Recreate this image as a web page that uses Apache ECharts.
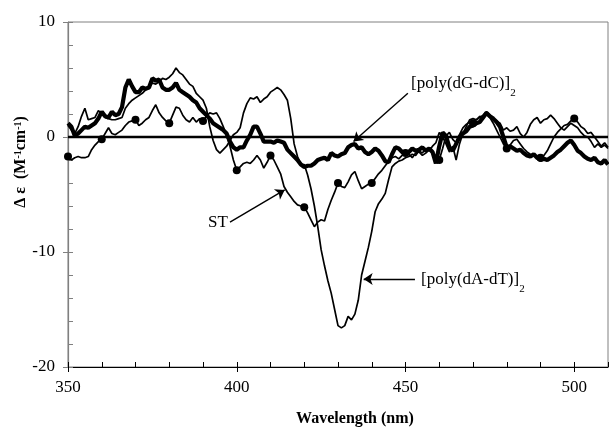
<!DOCTYPE html>
<html>
<head>
<meta charset="utf-8">
<script src="https://cdn.jsdelivr.net/npm/echarts@6/dist/echarts.min.js"></script>
<style>
html, body { margin: 0; padding: 0; background: #fff; }
#chart { width: 609px; height: 430px; }
</style>
</head>
<body>
<div id="chart"></div>
<script>
// CD spectra, 1 nm steps from 350 to 510 nm
const wlStart = 350
const wlEnd = 510

// [poly(dG-dC)]2 - thick trace
const polyGC = [
    1.2, 0.9, 0.1, 0.3, 0.6, 0.9, 0.8, 1.0, 1.2, 1.6,
    2.2, 1.8, 1.7, 2.2, 1.9, 2.0, 2.6, 4.3, 5.0, 4.4,
    3.9, 3.9, 4.3, 4.2, 4.3, 5.1, 4.9, 5.0, 4.3, 4.1,
    4.1, 4.3, 4.7, 4.1, 3.9, 3.7, 3.5, 3.2, 3.0, 2.5,
    2.2, 1.9, 1.6, 1.2, 1.0, 0.8, 0.6, 0.3, -0.4, -0.9,
    -1.1, -0.9, -0.9, -0.3, 0.2, 0.9, 0.9, 0.3, -0.4, -0.4,
    -0.4, -0.5, -0.3, -0.4, -0.5, -1.1, -1.4, -1.7, -2.0, -2.4,
    -2.6, -2.5, -2.5, -2.3, -2.0, -1.9, -1.8, -2.0, -1.4, -1.6,
    -1.7, -1.5, -1.4, -0.9, -0.7, -0.6, -1.0, -0.9, -1.3, -1.5,
    -1.3, -1.0, -1.2, -1.6, -2.1, -2.2, -1.5, -0.9, -1.0, -1.3,
    -1.5, -1.3, -1.0, -1.2, -1.1, -0.9, -1.2, -1.0, -1.3, -2.3,
    -0.8, 0.4, 0.1, -0.9, -1.2, -0.6, 0.0, 0.3, 0.5, 0.9,
    1.0, 1.2, 1.3, 1.7, 2.1, 1.8, 1.6, 1.3, 0.9, 0.0,
    -0.9, -0.8, -1.0, -1.2, -1.1, -1.4, -1.6, -1.7, -1.5, -1.8,
    -2.0, -1.9, -2.0, -1.8, -1.6, -1.3, -1.1, -0.8, -0.5, -0.3,
    -0.7, -1.2, -1.4, -1.7, -1.9, -2.0, -1.8, -2.2, -2.3, -2.0,
    -2.4
]

// [poly(dA-dT)]2 - thin trace with the deep band near 431 nm
const polyAT = [
    1.0, 0.6, 0.3, 0.9, 1.8, 2.5, 1.5, 1.6, 1.7, 2.3,
    2.0, 1.7, 1.6, 1.5, 1.5, 1.6, 1.7, 2.5, 2.9, 3.2,
    3.4, 3.6, 3.8, 4.1, 4.3, 4.7, 4.6, 4.8, 5.1, 5.0,
    5.2, 5.5, 6.0, 5.6, 5.4, 5.0, 4.6, 4.4, 3.8, 3.5,
    3.2, 2.5, 0.9, -0.3, -1.1, -1.4, -1.1, -0.8, -0.3, 0.2,
    0.4, 0.8, 2.1, 2.9, 3.4, 3.3, 3.5, 3.0, 3.3, 3.5,
    3.9, 4.1, 4.3, 4.1, 3.7, 3.2, 1.6, -0.6, -1.7, -2.4,
    -2.4, -3.3, -4.5, -6.0, -7.8, -9.8, -11.2, -12.5, -13.6, -15.0,
    -16.4, -16.6, -16.4, -15.6, -15.9, -15.4, -14.2, -12.0, -10.8, -9.6,
    -8.2, -6.5, -5.8, -5.4, -4.9, -3.7, -2.6, -2.3, -2.1, -2.0,
    -1.8, -1.7, -1.5, -1.6, -1.2, -1.4, -1.0, -1.2, -0.8, -0.5,
    0.4, 0.0, -0.6, -1.3, -0.8, -2.0, -0.6, 0.3, 0.9, 1.5,
    1.6, 1.5, 1.7, 1.9, 2.2, 1.9, 1.6, 1.4, 1.2, 0.6,
    0.8, 0.5, 0.6, 0.9, 0.3, 0.0, 0.4, 1.1, 1.5, 1.7,
    1.2, 1.5, 1.6, 1.9, 1.6, 1.2, 0.8, 0.6, 0.9, 1.2,
    1.0, 0.8, 0.4, 0.1, 0.0, -0.4, -0.9, -0.6, -0.9, -0.7,
    -1.0
]

// ST - thin trace with a dot every 10 nm
const st = [
    -1.7, -2.0, -1.8, -1.7, -1.8, -1.8, -1.7, -1.1, -0.7, -0.4,
    -0.2, 0.3, 0.8, 0.3, 0.2, 0.4, 0.6, 1.0, 1.3, 1.4,
    1.5, 1.0, 1.2, 1.5, 1.7, 2.3, 2.8, 2.1, 1.7, 1.4,
    1.2, 1.9, 2.6, 2.5, 1.9, 1.5, 1.3, 1.7, 1.3, 1.6,
    1.4, 1.8, 2.1, 2.0, 2.1, 1.6, 0.9, 0.1, -0.8, -2.0,
    -2.9, -2.6, -2.3, -2.2, -2.3, -2.0, -1.6, -2.0, -2.7, -2.2,
    -1.6, -2.0, -2.6, -3.2, -4.3, -4.8, -5.2, -5.6, -5.9, -6.0,
    -6.1, -6.6, -7.2, -7.8, -7.4, -7.2, -7.3, -6.3, -5.5, -4.8,
    -4.0, -4.3, -4.4, -3.9, -3.3, -3.0, -3.8, -4.5, -4.3, -4.1,
    -4.0, -3.6, -3.2, -2.9, -2.5, -2.1, -1.8, -1.7, -1.9, -1.6,
    -1.4, -1.5, -1.8, -1.4, -1.3, -1.6, -1.4, -1.1, -1.4, -1.9,
    -2.0, -1.0, 0.1, 0.4, -0.2, -0.5, 0.2, 0.8, 1.1, 1.3,
    1.2, 1.5, 1.8, 1.6, 2.0, 1.7, 1.2, 0.6, 0.0, -0.6,
    -1.0, -0.7, -0.3, -0.2, -0.6, -1.0, -1.3, -1.5, -1.6, -1.7,
    -1.8, -1.6, -1.2, -0.6, 0.0, 0.4, 0.7, 1.0, 1.1, 1.4,
    1.6, 1.3, 0.9, 0.7, 0.3, 0.4, 0.0, -0.4, -0.8, -0.5,
    -0.9
]

const xTicks = [350, 400, 450, 500]
const yTicks = [-20, -10, 0, 10]

let wavelengths = []
for (let w = wlStart; w <= wlEnd; w++) wavelengths.push(w)

const pairs = vals => wavelengths.map((w, i) => [w, vals[i]])

const serif = "'Liberation Serif', 'Times New Roman', serif"

let chart = echarts.init(document.getElementById('chart'), null, { renderer: 'canvas' })

const arrowStyle = { color: '#000', width: 1.4, type: 'solid' }

// label with a subscript 2 (main text pinned to top, digit to bottom of the line box)
const subRich = {
    m: { fontFamily: serif, fontSize: 17, lineHeight: 24, verticalAlign: 'top', fill: '#000' },
    d: { fontFamily: serif, fontSize: 11, lineHeight: 12, verticalAlign: 'bottom', fill: '#000' }
}

let option = {
    animation: false,
    backgroundColor: '#fff',
    grid: {
        left: 68, right: 1, top: 22, bottom: 63,
        show: true, borderColor: '#808080', borderWidth: 1
    },
    xAxis: [{
        type: 'value', min: xTicks[0], max: wlEnd, interval: xTicks[1] - xTicks[0],
        axisLine: { onZero: false, lineStyle: { color: '#000', width: 1.2 } },
        axisTick: { inside: false, length: 5, lineStyle: { color: '#000' } },
        axisLabel: { margin: 12, fontSize: 17, color: '#000', fontFamily: serif, showMaxLabel: false },
        splitLine: { show: false }
    }, {
        type: 'value', min: wlStart, max: wlEnd, interval: 10, position: 'bottom',
        axisLine: { show: false, onZero: false },
        axisTick: { inside: true, length: 5, lineStyle: { color: '#000' } },
        axisLabel: { show: false },
        splitLine: { show: false }
    }],
    yAxis: [{
        type: 'value', min: yTicks[0], max: yTicks[yTicks.length - 1], interval: yTicks[1] - yTicks[0],
        axisLine: { show: true, onZero: false, lineStyle: { color: '#808080', width: 1.2 } },
        axisTick: { inside: false, length: 5, lineStyle: { color: '#808080' } },
        axisLabel: { margin: 13, fontSize: 17, color: '#000', fontFamily: serif },
        splitLine: { show: false }
    }, {
        type: 'value', min: yTicks[0], max: yTicks[yTicks.length - 1], interval: 2, position: 'left',
        axisLine: { show: false, onZero: false },
        axisTick: { inside: true, length: 5, lineStyle: { color: '#808080' } },
        axisLabel: { show: false },
        splitLine: { show: false }
    }],
    series: [{
        name: '[poly(dA-dT)]2',
        type: 'line',
        data: pairs(polyAT),
        showSymbol: false,
        lineStyle: { color: '#000', width: 1.7 },
        markLine: {
            silent: true,
            symbol: ['none', 'arrow'],
            symbolSize: 9,
            label: { show: false },
            lineStyle: arrowStyle,
            data: [
                [{ coord: [452.8, -12.35] }, { coord: [437.6, -12.35] }]
            ]
        }
    }, {
        name: 'ST',
        type: 'line',
        data: pairs(st),
        showAllSymbol: true,
        symbol: (val, params) => (params.dataIndex % 10 === 0 && params.dataIndex < 160) ? 'circle' : 'none',
        symbolSize: 8,
        itemStyle: { color: '#000' },
        lineStyle: { color: '#000', width: 1.7 },
        markLine: {
            silent: true,
            symbol: ['none', 'arrow'],
            symbolSize: 9,
            label: { show: false },
            lineStyle: arrowStyle,
            data: [
                [{ coord: [398.0, -7.4] }, { coord: [414.2, -4.6] }],
                [{ coord: [450.7, 3.8] }, { coord: [434.6, -0.4] }]
            ]
        }
    }, {
        name: '[poly(dG-dC)]2',
        type: 'line',
        data: pairs(polyGC),
        showSymbol: false,
        lineStyle: { color: '#000', width: 4.2 },
        markLine: {
            silent: true,
            symbol: ['none', 'none'],
            label: { show: false },
            lineStyle: { color: '#000', width: 2.4, type: 'solid' },
            data: [{ yAxis: 0 }]
        }
    }],
    graphic: [{
        type: 'text', x: 22, y: 162, rotation: Math.PI / 2,
        style: {
            text: '{b|Δ ε  (M}{s|-1}{b|cm}{s|-1}{b|)}',
            align: 'center', verticalAlign: 'middle',
            rich: {
                b: { fontFamily: serif, fontWeight: 'bold', fontSize: 16, lineHeight: 18, verticalAlign: 'top', fill: '#000' },
                s: { fontFamily: serif, fontWeight: 'bold', fontSize: 10, lineHeight: 8, verticalAlign: 'top', fill: '#000' }
            }
        }
    }, {
        type: 'text', x: 355, y: 419,
        style: {
            text: 'Wavelength (nm)', align: 'center', verticalAlign: 'middle',
            fontFamily: serif, fontWeight: 'bold', fontSize: 16, fill: '#000'
        }
    }, {
        type: 'text', x: 208, y: 223,
        style: {
            text: 'ST', align: 'left', verticalAlign: 'middle',
            fontFamily: serif, fontSize: 17, fill: '#000'
        }
    }, {
        type: 'text', x: 411, y: 87,
        style: { text: '{m|[poly(dG-dC)]}{d|2}', align: 'left', verticalAlign: 'middle', rich: subRich }
    }, {
        type: 'text', x: 421, y: 283,
        style: { text: '{m|[poly(dA-dT)]}{d|2}', align: 'left', verticalAlign: 'middle', rich: subRich }
    }]
}

chart.setOption(option)
</script>
</body>
</html>
